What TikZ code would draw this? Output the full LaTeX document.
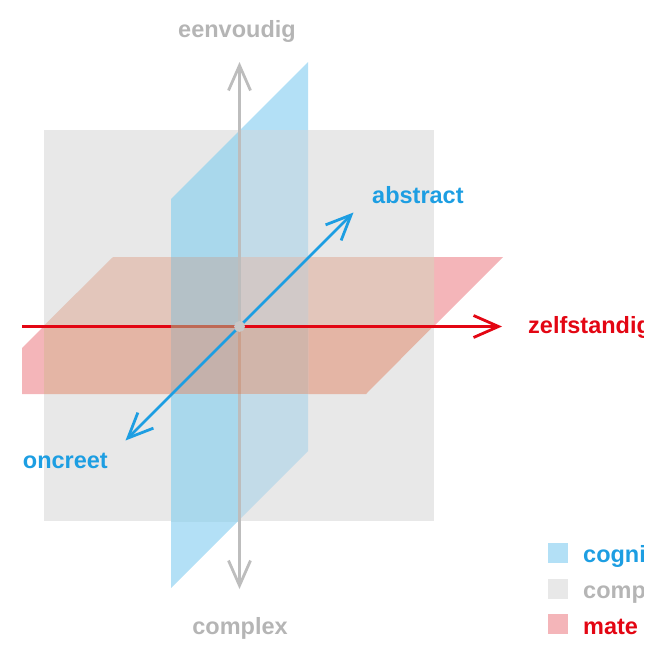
\documentclass[tikz,border=0pt]{standalone}
\usepackage{fontspec}
\setmainfont{Liberation Sans}
\usetikzlibrary{arrows.meta}
\definecolor{planeBlue}{RGB}{179,224,246}
\definecolor{planeGray}{RGB}{232,232,232}
\definecolor{planeRed}{RGB}{244,181,185}
\definecolor{redBackG}{RGB}{227,198,187}
\definecolor{redFrontG}{RGB}{228,181,165}
\definecolor{blueFrontG}{RGB}{169,216,236}
\definecolor{blueBackG}{RGB}{194,219,232}
\definecolor{qFB}{RGB}{180,193,199}
\definecolor{qBB}{RGB}{209,201,200}
\definecolor{qFF}{RGB}{197,177,171}
\definecolor{qBF}{RGB}{209,181,170}
\definecolor{axGray}{RGB}{189,189,189}
\definecolor{axRed}{RGB}{227,6,19}
\definecolor{axBlue}{RGB}{29,158,226}
\definecolor{txtGray}{RGB}{181,181,181}
\definecolor{tintGray}{RGB}{204,160,140}
\definecolor{tintRed}{RGB}{190,105,85}
\definecolor{dotGray}{RGB}{200,200,200}
\tikzset{
  axis/.style={line width=2.8pt,-{Straight Barb[length=25pt,width=22pt]}},
  lbl/.style={inner sep=0pt,font=\fontsize{23.5}{28}\selectfont\bfseries},
  legsq/.style={minimum width=20pt,minimum height=20pt,inner sep=0pt,anchor=north west}
}
\begin{document}
\begin{tikzpicture}[x=1pt,y=-1pt]
\useasboundingbox (0,0) rectangle (654,649);
\begin{scope}
\clip (22,0) rectangle (643,649);
% full planes
\fill[planeRed] (113,257) -- (503,257) -- (366,394) -- (-24,394) -- cycle;
\fill[planeBlue] (171,199) -- (308,62) -- (308,451) -- (171,588) -- cycle;
% gray plane
\fill[planeGray] (44,130) rectangle (434,521);
\begin{scope}
\clip (44,130) rectangle (434,521);
\fill[redBackG] (113,257) -- (503,257) -- (433,326.5) -- (43,326.5) -- cycle;
\fill[redFrontG] (43,326.5) -- (433,326.5) -- (366,394) -- (-24,394) -- cycle;
\fill[blueFrontG] (171,199) -- (239.5,130.5) -- (239.5,519.5) -- (171,588) -- cycle;
\fill[blueBackG] (239.5,130.5) -- (308,62) -- (308,451) -- (239.5,519.5) -- cycle;
\fill[qFB] (171,257) rectangle (239.5,326.5);
\fill[qBB] (239.5,257) rectangle (308,326.5);
\fill[qFF] (171,326.5) rectangle (239.5,394);
\fill[qBF] (239.5,326.5) rectangle (308,394);
\end{scope}
% axes
\coordinate (O) at (239.5,326.5);
\coordinate (gTop) at (239.5,62);
\coordinate (gBot) at (239.5,589);
\coordinate (rL) at (0,326.5);
\coordinate (rR) at (502,326.5);
\coordinate (bA) at (353.5,212.5);
\coordinate (bC) at (125.5,440.5);
\coordinate (tg1) at (239.5,328);
\coordinate (tg2) at (239.5,394);
\coordinate (tr1) at (171,326.5);
\coordinate (tr2) at (234,326.5);
\draw[axis,axGray] (O) -- (gTop);
\draw[axis,axGray] (O) -- (gBot);
\draw[line width=2.8pt,tintGray] (tg1) -- (tg2);
\draw[axis,axRed] (rL) -- (rR);
\draw[line width=2.8pt,tintRed] (tr1) -- (tr2);
\draw[axis,axBlue] (O) -- (bA);
\draw[axis,axBlue] (O) -- (bC);
\fill[dotGray] (O) circle (5.5);
% labels
\node[lbl,txtGray,anchor=base] (eenv) at (237,37) {eenvoudig};
\node[lbl,txtGray,anchor=base] (compl) at (240,634) {complex};
\node[lbl,axRed,anchor=base west] (zelf) at (528,333) {zelfstandig};
\node[lbl,axBlue,anchor=base west] (abs) at (372,203) {abstract};
\node[lbl,axBlue,anchor=base east] (conc) at (108,468) {concreet};
% legend
\node[legsq,fill=planeBlue] (l1) at (548,543) {};
\node[legsq,fill=planeGray] (l2) at (548,578.5) {};
\node[legsq,fill=planeRed] (l3) at (548,614) {};
\node[lbl,axBlue,anchor=base west] (t1) at (583,562) {cognitief};
\node[lbl,txtGray,anchor=base west] (t2) at (583,598) {complexiteit};
\node[lbl,axRed,anchor=base west] (t3) at (583,634) {mate van zelfstandigheid};
\end{scope}
\end{tikzpicture}
\end{document}
